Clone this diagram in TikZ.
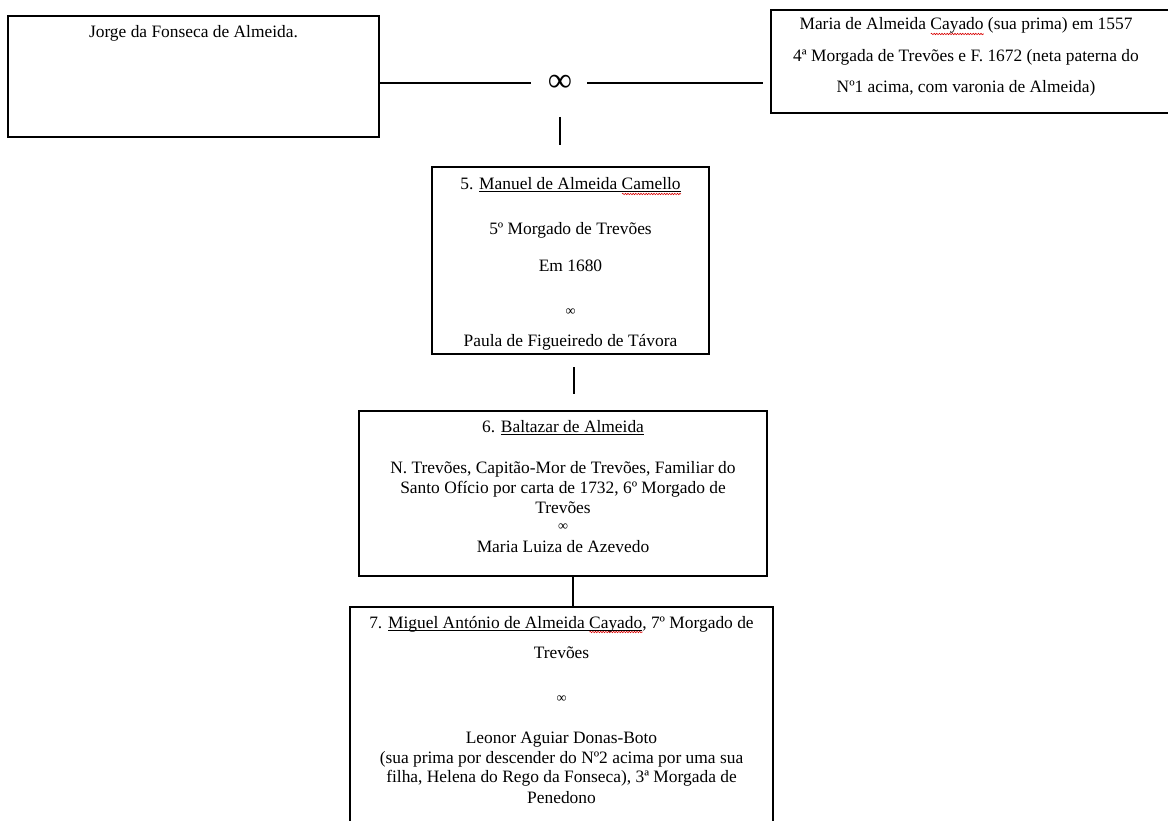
\documentclass[tikz,border=0pt]{standalone}
\usepackage{fontspec}
\usetikzlibrary{decorations.pathmorphing}
\setmainfont{Liberation Serif}
\newsavebox\ulbox
\newcommand\myul[1]{\sbox\ulbox{#1}\rlap{\rule[-2.4pt]{\wd\ulbox}{0.9pt}}\usebox\ulbox}
\newcommand\squig[1]{\sbox\ulbox{#1}\rlap{\raisebox{-5pt}{\tikz\draw[red!85!black, line width=0.6pt, decorate, decoration={snake, amplitude=0.7pt, segment length=2.6pt}] (0pt,0pt) -- (\wd\ulbox,0pt);}}\usebox\ulbox}
\newcommand\txtfont{\fontsize{17.4}{19.8}\selectfont}
\tikzset{
  box/.style={draw=black, line width=1.3pt, inner sep=0pt, fill=none},
  ln/.style={anchor=base, inner sep=0pt, font=\txtfont},
  smallinf/.style={anchor=base, inner sep=0pt, font=\fontsize{14}{15}\selectfont},
  conn/.style={draw=black, line width=2.4pt}
}
\begin{document}
\begin{tikzpicture}[x=1pt,y=-1pt]
\useasboundingbox (0,0) rectangle (1168,821);
\clip (0,0) rectangle (1168,821);
% boxes
\node[box, minimum width=371pt, minimum height=121pt] (J) at (193.5,76.5) {};
\node[box, minimum width=409pt, minimum height=103pt] (M) at (975.5,61.5) {};
\node[box, minimum width=277pt, minimum height=187pt] (B5) at (570.5,260.5) {};
\node[box, minimum width=408pt, minimum height=165pt] (B6) at (563,493.5) {};
\node[box, minimum width=423pt, minimum height=230pt] (B7) at (561.5,722) {};
% texts
\node[ln] (tJ) at (193.5,38) {Jorge da Fonseca de Almeida.};
\node[ln] (tM1) at (966,30) {Maria de Almeida \squig{Cayado} (sua prima) em 1557};
\node[ln] (tM2) at (966,62) {4ª Morgada de Trevões e F. 1672 (neta paterna do};
\node[ln] (tM3) at (966,93) {Nº1 acima, com varonia de Almeida)};
\node[ln] (t5a) at (570.5,190) {5. \myul{Manuel de Almeida \squig{Camello}}};
\node[ln] (t5b) at (570.5,235) {5º Morgado de Trevões};
\node[ln] (t5c) at (570.5,272) {Em 1680};
\node[smallinf] (t5d) at (570.5,316) {∞};
\node[ln] (t5e) at (570.5,346) {Paula de Figueiredo de Távora};
\node[ln] (t6a) at (563,432) {6. \myul{Baltazar de Almeida}};
\node[ln] (t6b) at (563,473) {N. Trevões, Capitão-Mor de Trevões, Familiar do};
\node[ln] (t6c) at (563,493) {Santo Ofício por carta de 1732, 6º Morgado de};
\node[ln] (t6d) at (563,513) {Trevões};
\node[smallinf] (t6e) at (563,530) {∞};
\node[ln] (t6f) at (563,552) {Maria Luiza de Azevedo};
\node[ln] (t7a) at (561.5,628) {7. \myul{Miguel António de Almeida \squig{Cayado}}, 7º Morgado de};
\node[ln] (t7b) at (561.5,658) {Trevões};
\node[smallinf] (t7c) at (561.5,702) {∞};
\node[ln] (t7d) at (561.5,743) {Leonor Aguiar Donas-Boto};
\node[ln] (t7e) at (561.5,763) {(sua prima por descender do Nº2 acima por uma sua};
\node[ln] (t7f) at (561.5,782) {filha, Helena do Rego da Fonseca), 3ª Morgada de};
\node[ln] (t7g) at (561.5,803) {Penedono};
% marriage symbol
\node[inner sep=0pt, font=\fontsize{34}{36}\selectfont] (marr) at (560,83) {∞};
\coordinate (mL) at (531,83);
\coordinate (mR) at (587,83);
\coordinate (mRend) at (763,83);
\coordinate (d1a) at (560,117);
\coordinate (d1b) at (560,145);
\coordinate (d2a) at (574,367);
\coordinate (d2b) at (574,394);
% connectors
\draw[conn] (J.east |- mL) -- (mL);
\draw[conn] (mR) -- (mRend);
\draw[conn] (d1a) -- (d1b);
\draw[conn] (d2a) -- (d2b);
\draw[conn] (B6.south -| 573,0) -- (B7.north -| 573,0);
\end{tikzpicture}
\end{document}
